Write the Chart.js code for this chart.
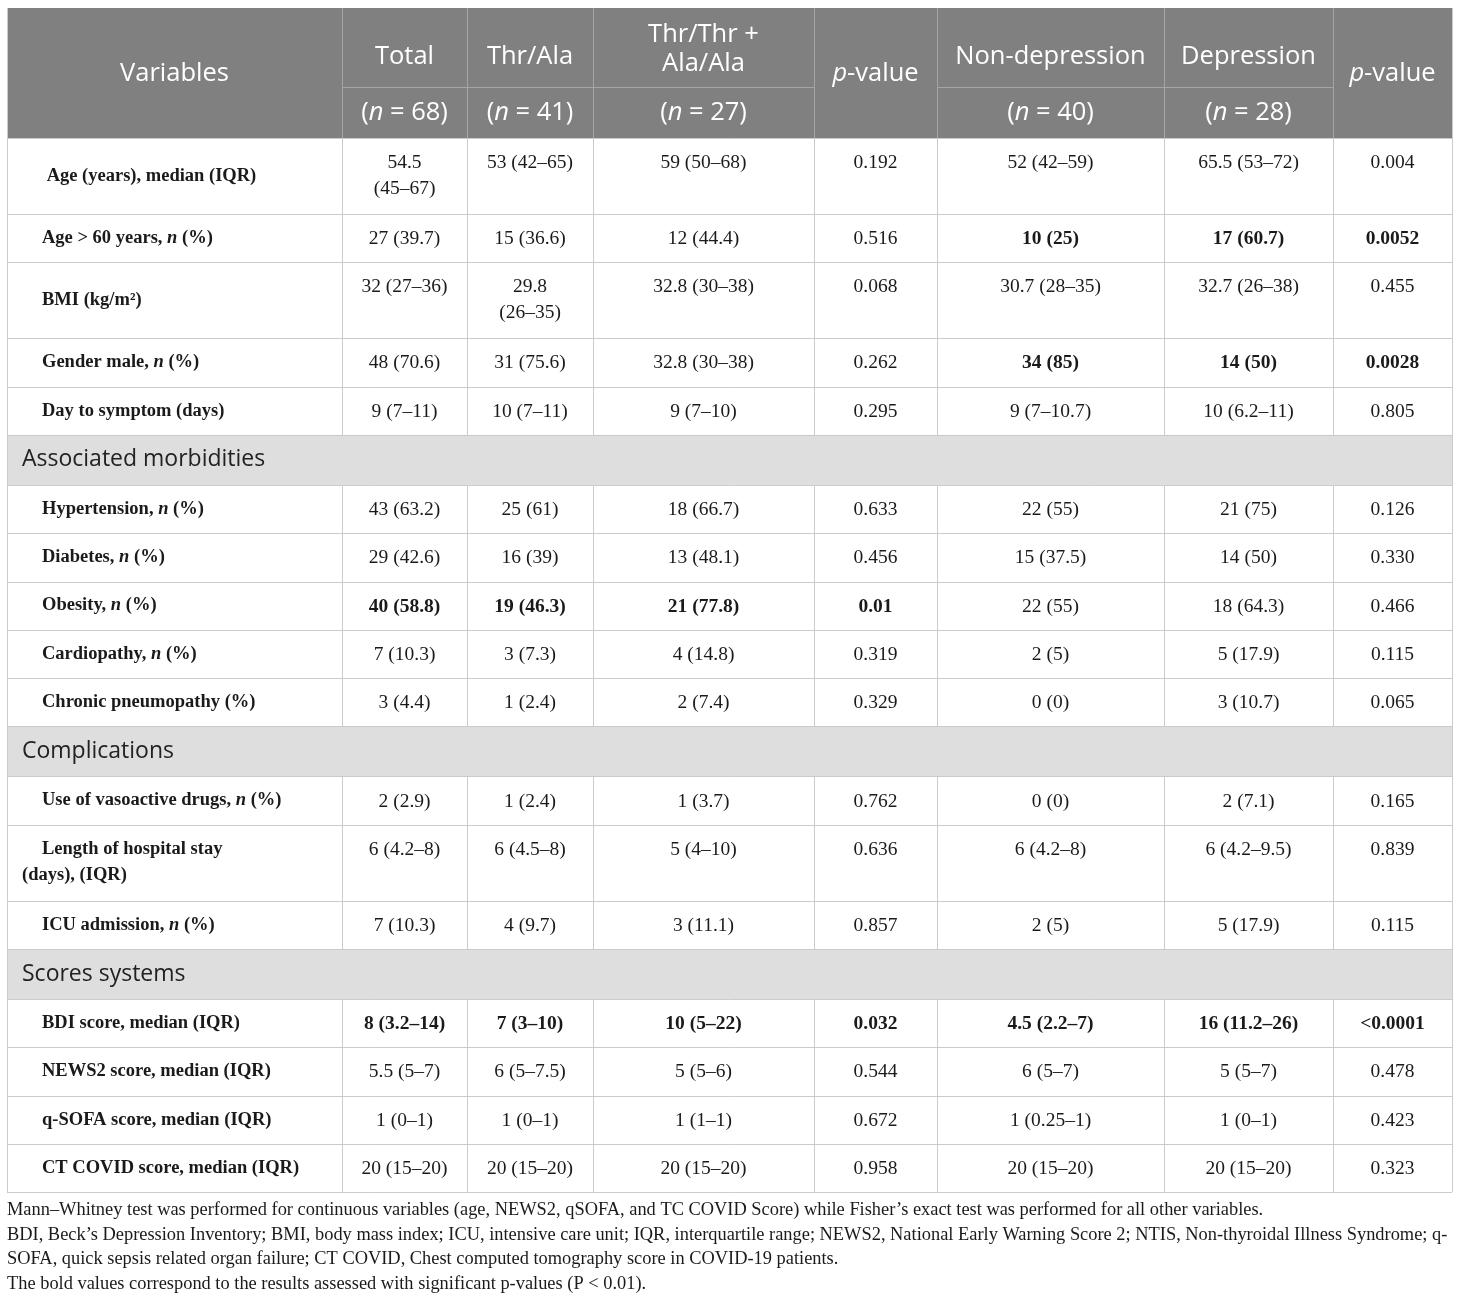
<!DOCTYPE html>
<html>
<head>
<meta charset="utf-8">
<script src="https://cdn.jsdelivr.net/npm/chart.js@4"></script>
<style>
  html, body { margin: 0; padding: 0; background: #fff; }
  canvas { display: block; }
</style>
</head>
<body>
<canvas id="tableChart" width="1460" height="1303" style="width:1460px;height:1303px"></canvas>
<script>
// --- table data ---
const columnNames = ['Variables', 'Total', 'Thr/Ala', 'Thr/Thr +\nAla/Ala', 'p-value', 'Non-depression', 'Depression', 'p-value'];
const groupSizes = [null, '(n = 68)', '(n = 41)', '(n = 27)', null, '(n = 40)', '(n = 28)', null];

const variables = [
    ' Age (years), median (IQR)', 'Age > 60 years, n (%)', 'BMI (kg/m²)', 'Gender male, n (%)', 'Day to symptom (days)',
    'Hypertension, n (%)', 'Diabetes, n (%)', 'Obesity, n (%)', 'Cardiopathy, n (%)', 'Chronic pneumopathy (%)',
    'Use of vasoactive drugs, n (%)', 'Length of hospital stay\n(days), (IQR)', 'ICU admission, n (%)',
    'BDI score, median (IQR)', 'NEWS2 score, median (IQR)', 'q-SOFA score, median (IQR)', 'CT COVID score, median (IQR)'
];
const sections = ['Associated morbidities', 'Complications', 'Scores systems'];
const sectionStarts = [5, 10, 13];

const total = ['54.5\n(45–67)', '27 (39.7)', '32 (27–36)', '48 (70.6)', '9 (7–11)', '43 (63.2)', '29 (42.6)', '40 (58.8)', '7 (10.3)', '3 (4.4)', '2 (2.9)', '6 (4.2–8)', '7 (10.3)', '8 (3.2–14)', '5.5 (5–7)', '1 (0–1)', '20 (15–20)'];
const thrAla = ['53 (42–65)', '15 (36.6)', '29.8\n(26–35)', '31 (75.6)', '10 (7–11)', '25 (61)', '16 (39)', '19 (46.3)', '3 (7.3)', '1 (2.4)', '1 (2.4)', '6 (4.5–8)', '4 (9.7)', '7 (3–10)', '6 (5–7.5)', '1 (0–1)', '20 (15–20)'];
const thrThrAlaAla = ['59 (50–68)', '12 (44.4)', '32.8 (30–38)', '32.8 (30–38)', '9 (7–10)', '18 (66.7)', '13 (48.1)', '21 (77.8)', '4 (14.8)', '2 (7.4)', '1 (3.7)', '5 (4–10)', '3 (11.1)', '10 (5–22)', '5 (5–6)', '1 (1–1)', '20 (15–20)'];
const pGenotype = ['0.192', '0.516', '0.068', '0.262', '0.295', '0.633', '0.456', '0.01', '0.319', '0.329', '0.762', '0.636', '0.857', '0.032', '0.544', '0.672', '0.958'];
const nonDepression = ['52 (42–59)', '10 (25)', '30.7 (28–35)', '34 (85)', '9 (7–10.7)', '22 (55)', '15 (37.5)', '22 (55)', '2 (5)', '0 (0)', '0 (0)', '6 (4.2–8)', '2 (5)', '4.5 (2.2–7)', '6 (5–7)', '1 (0.25–1)', '20 (15–20)'];
const depression = ['65.5 (53–72)', '17 (60.7)', '32.7 (26–38)', '14 (50)', '10 (6.2–11)', '21 (75)', '14 (50)', '18 (64.3)', '5 (17.9)', '3 (10.7)', '2 (7.1)', '6 (4.2–9.5)', '5 (17.9)', '16 (11.2–26)', '5 (5–7)', '1 (0–1)', '20 (15–20)'];
const pDepression = ['0.004', '0.0052', '0.455', '0.0028', '0.805', '0.126', '0.330', '0.466', '0.115', '0.065', '0.165', '0.839', '0.115', '<0.0001', '0.478', '0.423', '0.323'];

// significant cells (row index -> value columns in bold)
const boldCells = { 1: [5, 6, 7], 3: [5, 6, 7], 7: [1, 2, 3, 4], 13: [1, 2, 3, 4, 5, 6, 7] };

const footnotes = [
    'Mann–Whitney test was performed for continuous variables (age, NEWS2, qSOFA, and TC COVID Score) while Fisher’s exact test was performed for all other variables.',
    'BDI, Beck’s Depression Inventory; BMI, body mass index; ICU, intensive care unit; IQR, interquartile range; NEWS2, National Early Warning Score 2; NTIS, Non-thyroidal Illness Syndrome; q-',
    'SOFA, quick sepsis related organ failure; CT COVID, Chest computed tomography score in COVID-19 patients.',
    'The bold values correspond to the results assessed with significant p-values (P < 0.01).'
];

const valueColumns = [total, thrAla, thrThrAlaAla, pGenotype, nonDepression, depression, pDepression];

// --- layout (table units, mapped through the scales) ---
const colEdges = [7, 342, 467, 593, 814, 937, 1164, 1333, 1452];
const headerTop = 8, headerMid = 87, headerBottom = 138;
const SERIF = '"Liberation Serif", "DejaVu Serif", serif';
const SANS = '"Open Sans", "Noto Sans", sans-serif';

// split text into plain / italic runs: a lone "n" or "p" is italic
function runs(text) {
    const out = [];
    let buf = '';
    for (let i = 0; i < text.length; i++) {
        const c = text[i];
        const prev = text[i - 1] || ' ';
        const next = text[i + 1] || ' ';
        if ((c === 'n' || c === 'p') && !/[A-Za-z]/.test(prev) && !/[A-Za-z]/.test(next)) {
            if (buf) out.push({ t: buf, it: false });
            out.push({ t: c, it: true });
            buf = '';
        } else {
            buf += c;
        }
    }
    if (buf) out.push({ t: buf, it: false });
    return out;
}

function drawRich(ctx, text, x, y, font, align) {
    const parts = runs(text);
    const fontFor = p => (p.it ? 'italic ' : '') + font;
    let w = 0;
    parts.forEach(p => { ctx.font = fontFor(p); w += ctx.measureText(p.t).width; });
    let cx = align === 'center' ? x - w / 2 : x;
    ctx.textAlign = 'left';
    parts.forEach(p => {
        ctx.font = fontFor(p);
        ctx.fillText(p.t, cx, y);
        cx += ctx.measureText(p.t).width;
    });
}

const rowHeight = (label, r) => {
    const n = Math.max(label.split('\n').length, ...valueColumns.map(col => col[r].split('\n').length));
    return n > 1 ? 76 : 48.3;
};

const tablePlugin = {
    id: 'tablePlugin',
    afterDraw(chart) {
        const ctx = chart.ctx;
        const X = v => chart.scales.x.getPixelForValue(v);
        const Y = v => chart.scales.y.getPixelForValue(v);
        const left = X(colEdges[0]), right = X(colEdges[colEdges.length - 1]);
        ctx.save();
        ctx.textBaseline = 'middle';

        // header block
        ctx.fillStyle = '#808080';
        ctx.fillRect(left, Y(headerTop), right - left, Y(headerBottom) - Y(headerTop));
        ctx.strokeStyle = '#a5a5a5';
        ctx.lineWidth = 1;
        ctx.beginPath();
        for (let c = 1; c < colEdges.length - 1; c++) {
            ctx.moveTo(Math.round(X(colEdges[c])) + 0.5, Y(headerTop));
            ctx.lineTo(Math.round(X(colEdges[c])) + 0.5, Y(headerBottom));
        }
        groupSizes.forEach((g, c) => {
            if (g === null) return;
            ctx.moveTo(X(colEdges[c]), Math.round(Y(headerMid)) + 0.5);
            ctx.lineTo(X(colEdges[c + 1]), Math.round(Y(headerMid)) + 0.5);
        });
        ctx.stroke();

        const headFont = '25.5px ' + SANS;
        ctx.fillStyle = '#ffffff';
        columnNames.forEach((name, c) => {
            const cx = (X(colEdges[c]) + X(colEdges[c + 1])) / 2;
            const lines = name.split('\n');
            if (groupSizes[c] === null) {
                drawRich(ctx, name, cx, Y((headerTop + headerBottom) / 2) + 1, headFont, 'center');
            } else {
                const first = 57 - 22 * (lines.length - 1);
                lines.forEach((ln, i) => drawRich(ctx, ln, cx, Y(first + 29 * i), headFont, 'center'));
                drawRich(ctx, groupSizes[c], cx, Y(113), headFont, 'center');
            }
        });

        // body rows
        let top = headerBottom;
        const hLines = [top];
        const segments = [];
        let segTop = headerBottom;
        variables.forEach((label, r) => {
            const s = sectionStarts.indexOf(r);
            if (s >= 0) {
                segments.push([segTop, top]);
                const h = 50;
                ctx.fillStyle = '#dedede';
                ctx.fillRect(left, Y(top), right - left, Y(top + h) - Y(top));
                ctx.fillStyle = '#222222';
                drawRich(ctx, sections[s], X(22), Y(top + h / 2), '23px ' + SANS, 'left');
                top += h;
                segTop = top;
                hLines.push(top);
            }
            const labelLines = label.split('\n');
            const h = rowHeight(label, r);

            ctx.fillStyle = '#1a1a1a';
            const mid = top + h / 2;
            labelLines.forEach((ln, i) => {
                const ly = mid + (i - (labelLines.length - 1) / 2) * 26;
                drawRich(ctx, ln, X(i === 0 ? 42 : 22), Y(ly), 'bold 18.5px ' + SERIF, 'left');
            });
            valueColumns.forEach((col, k) => {
                const c = k + 1;
                const cx = (X(colEdges[c]) + X(colEdges[c + 1])) / 2;
                const bold = (boldCells[r] || []).includes(c);
                col[r].split('\n').forEach((ln, i) => {
                    ctx.font = (bold ? 'bold ' : '') + '19.5px ' + SERIF;
                    ctx.textAlign = 'center';
                    ctx.fillText(ln, cx, Y(top + 25 + 26 * i));
                });
            });
            top += h;
            hLines.push(top);
        });
        segments.push([segTop, top]);

        // grid lines
        ctx.strokeStyle = '#cbcbcb';
        ctx.lineWidth = 1;
        ctx.beginPath();
        hLines.forEach(yv => {
            const py = Math.round(Y(yv)) + 0.5;
            ctx.moveTo(left, py);
            ctx.lineTo(right, py);
        });
        colEdges.forEach((xv, c) => {
            const px = Math.round(X(xv)) + 0.5;
            if (c === 0 || c === colEdges.length - 1) {
                ctx.moveTo(px, Y(headerTop));
                ctx.lineTo(px, Y(top));
            } else {
                segments.forEach(([a, b]) => { ctx.moveTo(px, Y(a)); ctx.lineTo(px, Y(b)); });
            }
        });
        ctx.stroke();

        // footnotes
        ctx.fillStyle = '#1a1a1a';
        ctx.font = '18.4px ' + SERIF;
        ctx.textAlign = 'left';
        footnotes.forEach((t, i) => ctx.fillText(t, X(7), Y(top + 18 + 24.7 * i)));
        ctx.restore();
    }
};

new Chart(document.getElementById('tableChart'), {
    type: 'scatter',
    data: { datasets: [] },
    options: {
        responsive: false,
        animation: false,
        layout: { padding: 0 },
        plugins: { legend: { display: false }, tooltip: { enabled: false } },
        scales: {
            x: { type: 'linear', min: 0, max: 1460, display: false },
            y: { type: 'linear', min: 0, max: 1303, reverse: true, display: false }
        }
    },
    plugins: [tablePlugin]
});
</script>
</body>
</html>
